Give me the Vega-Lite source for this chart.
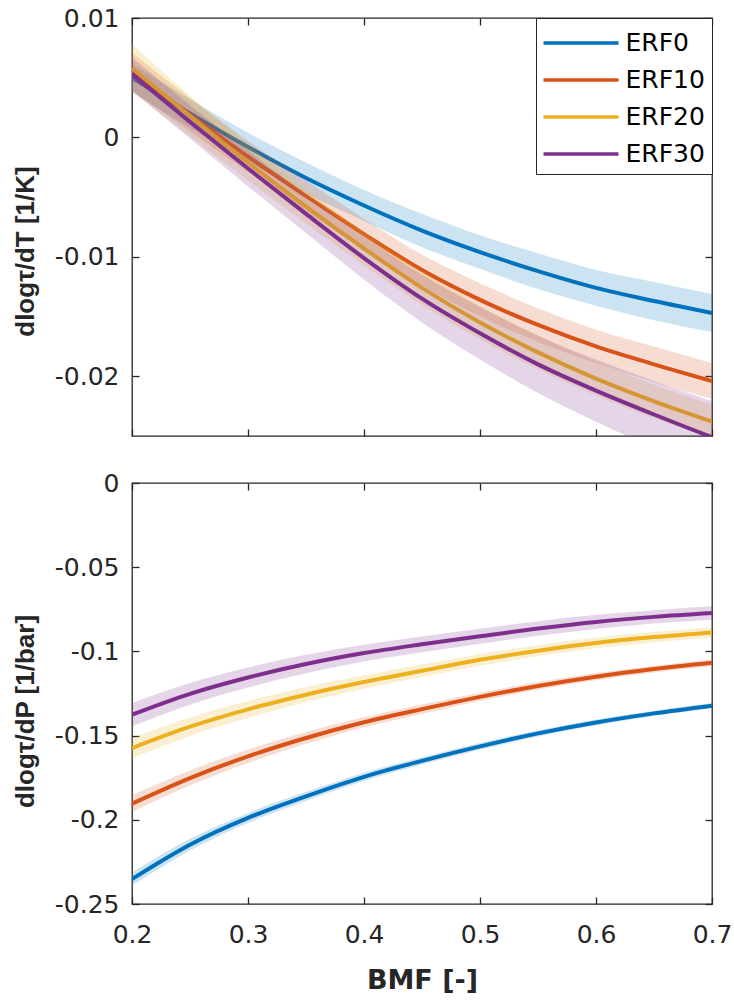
{
  "$schema": "https://vega.github.io/schema/vega-lite/v6.json",
  "background": "white",
  "padding": {"left": 11, "top": 5, "right": 5, "bottom": 5},
  "config": {
    "font": "DejaVu Sans",
    "view": {"stroke": "#262626", "strokeWidth": 1.3},
    "axis": {"domain": false, "grid": false, "tickColor": "#262626", "tickWidth": 1.3, "tickSize": -7, "labelColor": "#262626", "labelFont": "DejaVu Sans", "labelFontSize": 25, "labelPadding": 20, "labelFlush": false, "titleColor": "#262626", "titleFont": "Liberation Sans", "titleFontWeight": "bold", "titleFontSize": 26},
    "legend": {"orient": "top-right", "offset": 0, "padding": 6.5, "strokeColor": "#262626", "strokeWidth": 1, "fillColor": "white", "symbolType": "M-1.045,0H3.433", "symbolStrokeWidth": 3.5, "symbolSize": 1122, "symbolOpacity": 1, "labelFont": "DejaVu Sans", "labelFontSize": 25, "labelColor": "#000000", "labelOffset": 46, "rowPadding": 5, "cornerRadius": 0}
  },
  "datasets": {
    "T": [
      {"s": "ERF0", "x": 0.2, "y": 0.0050, "lo": 0.0038, "hi": 0.0062},
      {"s": "ERF0", "x": 0.25, "y": 0.0020, "lo": 0.0008, "hi": 0.0032},
      {"s": "ERF0", "x": 0.3, "y": -0.0008, "lo": -0.0020, "hi": 0.0004},
      {"s": "ERF0", "x": 0.35, "y": -0.0034, "lo": -0.0047, "hi": -0.0021},
      {"s": "ERF0", "x": 0.4, "y": -0.0057, "lo": -0.0070, "hi": -0.0044},
      {"s": "ERF0", "x": 0.45, "y": -0.0078, "lo": -0.0092, "hi": -0.0064},
      {"s": "ERF0", "x": 0.5, "y": -0.0096, "lo": -0.0110, "hi": -0.0082},
      {"s": "ERF0", "x": 0.55, "y": -0.0112, "lo": -0.0127, "hi": -0.0097},
      {"s": "ERF0", "x": 0.6, "y": -0.0126, "lo": -0.0141, "hi": -0.0111},
      {"s": "ERF0", "x": 0.65, "y": -0.0137, "lo": -0.0153, "hi": -0.0121},
      {"s": "ERF0", "x": 0.7, "y": -0.0147, "lo": -0.0163, "hi": -0.0131},
      {"s": "ERF10", "x": 0.2, "y": 0.0055, "lo": 0.0039, "hi": 0.0071},
      {"s": "ERF10", "x": 0.25, "y": 0.0019, "lo": 0.0005, "hi": 0.0033},
      {"s": "ERF10", "x": 0.3, "y": -0.0016, "lo": -0.0029, "hi": -0.0003},
      {"s": "ERF10", "x": 0.35, "y": -0.0049, "lo": -0.0062, "hi": -0.0036},
      {"s": "ERF10", "x": 0.4, "y": -0.0081, "lo": -0.0094, "hi": -0.0068},
      {"s": "ERF10", "x": 0.45, "y": -0.0111, "lo": -0.0124, "hi": -0.0098},
      {"s": "ERF10", "x": 0.5, "y": -0.0136, "lo": -0.0150, "hi": -0.0122},
      {"s": "ERF10", "x": 0.55, "y": -0.0157, "lo": -0.0171, "hi": -0.0143},
      {"s": "ERF10", "x": 0.6, "y": -0.0175, "lo": -0.0189, "hi": -0.0161},
      {"s": "ERF10", "x": 0.65, "y": -0.0190, "lo": -0.0205, "hi": -0.0175},
      {"s": "ERF10", "x": 0.7, "y": -0.0204, "lo": -0.0219, "hi": -0.0189},
      {"s": "ERF20", "x": 0.2, "y": 0.0058, "lo": 0.0038, "hi": 0.0078},
      {"s": "ERF20", "x": 0.25, "y": 0.0018, "lo": 0.0001, "hi": 0.0035},
      {"s": "ERF20", "x": 0.3, "y": -0.0021, "lo": -0.0036, "hi": -0.0006},
      {"s": "ERF20", "x": 0.35, "y": -0.0058, "lo": -0.0072, "hi": -0.0044},
      {"s": "ERF20", "x": 0.4, "y": -0.0093, "lo": -0.0107, "hi": -0.0079},
      {"s": "ERF20", "x": 0.45, "y": -0.0126, "lo": -0.0140, "hi": -0.0112},
      {"s": "ERF20", "x": 0.5, "y": -0.0155, "lo": -0.0169, "hi": -0.0141},
      {"s": "ERF20", "x": 0.55, "y": -0.0180, "lo": -0.0194, "hi": -0.0166},
      {"s": "ERF20", "x": 0.6, "y": -0.0202, "lo": -0.0216, "hi": -0.0188},
      {"s": "ERF20", "x": 0.65, "y": -0.0221, "lo": -0.0235, "hi": -0.0207},
      {"s": "ERF20", "x": 0.7, "y": -0.0238, "lo": -0.0252, "hi": -0.0224},
      {"s": "ERF30", "x": 0.2, "y": 0.0053, "lo": 0.0039, "hi": 0.0067},
      {"s": "ERF30", "x": 0.25, "y": 0.0013, "lo": -0.0001, "hi": 0.0027},
      {"s": "ERF30", "x": 0.3, "y": -0.0026, "lo": -0.0041, "hi": -0.0011},
      {"s": "ERF30", "x": 0.35, "y": -0.0064, "lo": -0.0080, "hi": -0.0048},
      {"s": "ERF30", "x": 0.4, "y": -0.0101, "lo": -0.0119, "hi": -0.0083},
      {"s": "ERF30", "x": 0.45, "y": -0.0135, "lo": -0.0155, "hi": -0.0115},
      {"s": "ERF30", "x": 0.5, "y": -0.0164, "lo": -0.0186, "hi": -0.0142},
      {"s": "ERF30", "x": 0.55, "y": -0.0190, "lo": -0.0214, "hi": -0.0166},
      {"s": "ERF30", "x": 0.6, "y": -0.0212, "lo": -0.0238, "hi": -0.0186},
      {"s": "ERF30", "x": 0.65, "y": -0.0232, "lo": -0.0260, "hi": -0.0204},
      {"s": "ERF30", "x": 0.7, "y": -0.0251, "lo": -0.0281, "hi": -0.0221}
    ],
    "P": [
      {"s": "ERF0", "x": 0.2, "y": -0.2352, "lo": -0.2392, "hi": -0.2312},
      {"s": "ERF0", "x": 0.25, "y": -0.2148, "lo": -0.2183, "hi": -0.2113},
      {"s": "ERF0", "x": 0.3, "y": -0.1989, "lo": -0.2019, "hi": -0.1959},
      {"s": "ERF0", "x": 0.35, "y": -0.1861, "lo": -0.1888, "hi": -0.1834},
      {"s": "ERF0", "x": 0.4, "y": -0.1745, "lo": -0.1770, "hi": -0.1720},
      {"s": "ERF0", "x": 0.45, "y": -0.1650, "lo": -0.1672, "hi": -0.1628},
      {"s": "ERF0", "x": 0.5, "y": -0.1564, "lo": -0.1584, "hi": -0.1544},
      {"s": "ERF0", "x": 0.55, "y": -0.1487, "lo": -0.1505, "hi": -0.1469},
      {"s": "ERF0", "x": 0.6, "y": -0.1422, "lo": -0.1439, "hi": -0.1405},
      {"s": "ERF0", "x": 0.65, "y": -0.1368, "lo": -0.1384, "hi": -0.1352},
      {"s": "ERF0", "x": 0.7, "y": -0.1322, "lo": -0.1337, "hi": -0.1307},
      {"s": "ERF10", "x": 0.2, "y": -0.1904, "lo": -0.1954, "hi": -0.1854},
      {"s": "ERF10", "x": 0.25, "y": -0.1752, "lo": -0.1797, "hi": -0.1707},
      {"s": "ERF10", "x": 0.3, "y": -0.1623, "lo": -0.1663, "hi": -0.1583},
      {"s": "ERF10", "x": 0.35, "y": -0.1514, "lo": -0.1549, "hi": -0.1479},
      {"s": "ERF10", "x": 0.4, "y": -0.1421, "lo": -0.1451, "hi": -0.1391},
      {"s": "ERF10", "x": 0.45, "y": -0.1343, "lo": -0.1371, "hi": -0.1315},
      {"s": "ERF10", "x": 0.5, "y": -0.1270, "lo": -0.1295, "hi": -0.1245},
      {"s": "ERF10", "x": 0.55, "y": -0.1205, "lo": -0.1228, "hi": -0.1182},
      {"s": "ERF10", "x": 0.6, "y": -0.1150, "lo": -0.1172, "hi": -0.1128},
      {"s": "ERF10", "x": 0.65, "y": -0.1105, "lo": -0.1125, "hi": -0.1085},
      {"s": "ERF10", "x": 0.7, "y": -0.1068, "lo": -0.1088, "hi": -0.1048},
      {"s": "ERF20", "x": 0.2, "y": -0.1574, "lo": -0.1634, "hi": -0.1514},
      {"s": "ERF20", "x": 0.25, "y": -0.1447, "lo": -0.1502, "hi": -0.1392},
      {"s": "ERF20", "x": 0.3, "y": -0.1344, "lo": -0.1394, "hi": -0.1294},
      {"s": "ERF20", "x": 0.35, "y": -0.1257, "lo": -0.1302, "hi": -0.1212},
      {"s": "ERF20", "x": 0.4, "y": -0.1182, "lo": -0.1222, "hi": -0.1142},
      {"s": "ERF20", "x": 0.45, "y": -0.1115, "lo": -0.1152, "hi": -0.1078},
      {"s": "ERF20", "x": 0.5, "y": -0.1050, "lo": -0.1085, "hi": -0.1015},
      {"s": "ERF20", "x": 0.55, "y": -0.0996, "lo": -0.1029, "hi": -0.0963},
      {"s": "ERF20", "x": 0.6, "y": -0.0950, "lo": -0.0982, "hi": -0.0918},
      {"s": "ERF20", "x": 0.65, "y": -0.0915, "lo": -0.0945, "hi": -0.0885},
      {"s": "ERF20", "x": 0.7, "y": -0.0887, "lo": -0.0917, "hi": -0.0857},
      {"s": "ERF30", "x": 0.2, "y": -0.1376, "lo": -0.1446, "hi": -0.1306},
      {"s": "ERF30", "x": 0.25, "y": -0.1252, "lo": -0.1317, "hi": -0.1187},
      {"s": "ERF30", "x": 0.3, "y": -0.1155, "lo": -0.1215, "hi": -0.1095},
      {"s": "ERF30", "x": 0.35, "y": -0.1075, "lo": -0.1130, "hi": -0.1020},
      {"s": "ERF30", "x": 0.4, "y": -0.1010, "lo": -0.1060, "hi": -0.0960},
      {"s": "ERF30", "x": 0.45, "y": -0.0958, "lo": -0.1005, "hi": -0.0911},
      {"s": "ERF30", "x": 0.5, "y": -0.0910, "lo": -0.0955, "hi": -0.0865},
      {"s": "ERF30", "x": 0.55, "y": -0.0864, "lo": -0.0907, "hi": -0.0821},
      {"s": "ERF30", "x": 0.6, "y": -0.0825, "lo": -0.0867, "hi": -0.0783},
      {"s": "ERF30", "x": 0.65, "y": -0.0795, "lo": -0.0835, "hi": -0.0755},
      {"s": "ERF30", "x": 0.7, "y": -0.0772, "lo": -0.0812, "hi": -0.0732}
    ]
  },
  "spacing": 29,
  "resolve": {"scale": {"color": "independent"}, "legend": {"color": "independent"}},
  "vconcat": [
    {
      "width": 580,
      "height": 418,
      "data": {"name": "T"},
      "resolve": {"axis": {"x": "independent", "y": "independent"}},
      "layer": [
        {
          "encoding": {
            "x": {"field": "x", "type": "quantitative", "scale": {"domain": [0.2, 0.7], "nice": false}, "axis": {"values": [0.2, 0.3, 0.4, 0.5, 0.6, 0.7], "labels": false, "title": null}}
          },
          "layer": [
            {"transform": [{"filter": "datum.s === 'ERF0'"}], "mark": {"type": "area", "color": "#0072BD", "opacity": 0.2, "clip": true, "interpolate": "monotone"},
             "encoding": {"y": {"field": "lo", "type": "quantitative", "scale": {"domain": [-0.025, 0.01], "nice": false}, "axis": {"values": [-0.02, -0.01, 0, 0.01], "labelExpr": "datum.value < 0 ? '-' + format(-datum.value, '~g') : format(datum.value, '~g')", "title": "dlogτ/dT [1/K]", "titleX": -94, "titleY": 233}}, "y2": {"field": "hi"}}},
            {"transform": [{"filter": "datum.s === 'ERF0'"}], "mark": {"type": "line", "strokeWidth": 4, "clip": true, "interpolate": "monotone"},
             "encoding": {"y": {"field": "y", "type": "quantitative", "scale": {"domain": [-0.025, 0.01], "nice": false}, "axis": {"values": [-0.02, -0.01, 0, 0.01], "labelExpr": "datum.value < 0 ? '-' + format(-datum.value, '~g') : format(datum.value, '~g')", "title": "dlogτ/dT [1/K]", "titleX": -94, "titleY": 233}},
              "color": {"field": "s", "type": "nominal", "scale": {"domain": ["ERF0", "ERF10", "ERF20", "ERF30"], "range": ["#0072BD", "#D95319", "#EDB120", "#7E2F8E"]}, "legend": {"title": null, "orient": "top-right"}}}},
            {"transform": [{"filter": "datum.s === 'ERF10'"}], "mark": {"type": "area", "color": "#D95319", "opacity": 0.2, "clip": true, "interpolate": "monotone"},
             "encoding": {"y": {"field": "lo", "type": "quantitative", "scale": {"domain": [-0.025, 0.01], "nice": false}, "axis": {"values": [-0.02, -0.01, 0, 0.01], "labelExpr": "datum.value < 0 ? '-' + format(-datum.value, '~g') : format(datum.value, '~g')", "title": "dlogτ/dT [1/K]", "titleX": -94, "titleY": 233}}, "y2": {"field": "hi"}}},
            {"transform": [{"filter": "datum.s === 'ERF10'"}], "mark": {"type": "line", "strokeWidth": 4, "clip": true, "interpolate": "monotone"},
             "encoding": {"y": {"field": "y", "type": "quantitative", "scale": {"domain": [-0.025, 0.01], "nice": false}, "axis": {"values": [-0.02, -0.01, 0, 0.01], "labelExpr": "datum.value < 0 ? '-' + format(-datum.value, '~g') : format(datum.value, '~g')", "title": "dlogτ/dT [1/K]", "titleX": -94, "titleY": 233}},
              "color": {"field": "s", "type": "nominal", "scale": {"domain": ["ERF0", "ERF10", "ERF20", "ERF30"], "range": ["#0072BD", "#D95319", "#EDB120", "#7E2F8E"]}, "legend": {"title": null, "orient": "top-right"}}}},
            {"transform": [{"filter": "datum.s === 'ERF20'"}], "mark": {"type": "area", "color": "#EDB120", "opacity": 0.2, "clip": true, "interpolate": "monotone"},
             "encoding": {"y": {"field": "lo", "type": "quantitative", "scale": {"domain": [-0.025, 0.01], "nice": false}, "axis": {"values": [-0.02, -0.01, 0, 0.01], "labelExpr": "datum.value < 0 ? '-' + format(-datum.value, '~g') : format(datum.value, '~g')", "title": "dlogτ/dT [1/K]", "titleX": -94, "titleY": 233}}, "y2": {"field": "hi"}}},
            {"transform": [{"filter": "datum.s === 'ERF20'"}], "mark": {"type": "line", "strokeWidth": 4, "clip": true, "interpolate": "monotone"},
             "encoding": {"y": {"field": "y", "type": "quantitative", "scale": {"domain": [-0.025, 0.01], "nice": false}, "axis": {"values": [-0.02, -0.01, 0, 0.01], "labelExpr": "datum.value < 0 ? '-' + format(-datum.value, '~g') : format(datum.value, '~g')", "title": "dlogτ/dT [1/K]", "titleX": -94, "titleY": 233}},
              "color": {"field": "s", "type": "nominal", "scale": {"domain": ["ERF0", "ERF10", "ERF20", "ERF30"], "range": ["#0072BD", "#D95319", "#EDB120", "#7E2F8E"]}, "legend": {"title": null, "orient": "top-right"}}}},
            {"transform": [{"filter": "datum.s === 'ERF30'"}], "mark": {"type": "area", "color": "#7E2F8E", "opacity": 0.2, "clip": true, "interpolate": "monotone"},
             "encoding": {"y": {"field": "lo", "type": "quantitative", "scale": {"domain": [-0.025, 0.01], "nice": false}, "axis": {"values": [-0.02, -0.01, 0, 0.01], "labelExpr": "datum.value < 0 ? '-' + format(-datum.value, '~g') : format(datum.value, '~g')", "title": "dlogτ/dT [1/K]", "titleX": -94, "titleY": 233}}, "y2": {"field": "hi"}}},
            {"transform": [{"filter": "datum.s === 'ERF30'"}], "mark": {"type": "line", "strokeWidth": 4, "clip": true, "interpolate": "monotone"},
             "encoding": {"y": {"field": "y", "type": "quantitative", "scale": {"domain": [-0.025, 0.01], "nice": false}, "axis": {"values": [-0.02, -0.01, 0, 0.01], "labelExpr": "datum.value < 0 ? '-' + format(-datum.value, '~g') : format(datum.value, '~g')", "title": "dlogτ/dT [1/K]", "titleX": -94, "titleY": 233}},
              "color": {"field": "s", "type": "nominal", "scale": {"domain": ["ERF0", "ERF10", "ERF20", "ERF30"], "range": ["#0072BD", "#D95319", "#EDB120", "#7E2F8E"]}, "legend": {"title": null, "orient": "top-right"}}}}
          ]
        },
        {
          "mark": {"type": "point", "opacity": 0},
          "encoding": {
            "x": {"field": "x", "type": "quantitative", "scale": {"domain": [0.2, 0.7], "nice": false}, "axis": {"orient": "top", "values": [0.2, 0.3, 0.4, 0.5, 0.6, 0.7], "labels": false, "title": null}},
            "y": {"field": "y", "type": "quantitative", "scale": {"domain": [-0.025, 0.01], "nice": false}, "axis": {"orient": "right", "values": [-0.02, -0.01, 0, 0.01], "labels": false, "title": null}}
          }
        }
      ]
    },
    {
      "width": 580,
      "height": 421,
      "data": {"name": "P"},
      "resolve": {"axis": {"x": "independent", "y": "independent"}},
      "layer": [
        {
          "encoding": {
            "x": {"field": "x", "type": "quantitative", "scale": {"domain": [0.2, 0.7], "nice": false}, "axis": {"values": [0.2, 0.3, 0.4, 0.5, 0.6, 0.7], "format": "~g", "title": "BMF [-]", "titleFont": "DejaVu Sans", "titleFontSize": 27, "labelPadding": 25, "titlePadding": 20}}
          },
          "layer": [
            {"transform": [{"filter": "datum.s === 'ERF0'"}], "mark": {"type": "area", "color": "#0072BD", "opacity": 0.2, "clip": true, "interpolate": "monotone"},
             "encoding": {"y": {"field": "lo", "type": "quantitative", "scale": {"domain": [-0.25, 0], "nice": false}, "axis": {"values": [-0.25, -0.2, -0.15, -0.1, -0.05, 0], "labelExpr": "datum.value < 0 ? '-' + format(-datum.value, '~g') : format(datum.value, '~g')", "title": "dlogτ/dP [1/bar]", "titleX": -94, "titleY": 228}}, "y2": {"field": "hi"}}},
            {"transform": [{"filter": "datum.s === 'ERF0'"}], "mark": {"type": "line", "strokeWidth": 4, "clip": true, "interpolate": "monotone"},
             "encoding": {"y": {"field": "y", "type": "quantitative", "scale": {"domain": [-0.25, 0], "nice": false}, "axis": {"values": [-0.25, -0.2, -0.15, -0.1, -0.05, 0], "labelExpr": "datum.value < 0 ? '-' + format(-datum.value, '~g') : format(datum.value, '~g')", "title": "dlogτ/dP [1/bar]", "titleX": -94, "titleY": 228}},
              "color": {"field": "s", "type": "nominal", "scale": {"domain": ["ERF0", "ERF10", "ERF20", "ERF30"], "range": ["#0072BD", "#D95319", "#EDB120", "#7E2F8E"]}, "legend": null}}},
            {"transform": [{"filter": "datum.s === 'ERF10'"}], "mark": {"type": "area", "color": "#D95319", "opacity": 0.2, "clip": true, "interpolate": "monotone"},
             "encoding": {"y": {"field": "lo", "type": "quantitative", "scale": {"domain": [-0.25, 0], "nice": false}, "axis": {"values": [-0.25, -0.2, -0.15, -0.1, -0.05, 0], "labelExpr": "datum.value < 0 ? '-' + format(-datum.value, '~g') : format(datum.value, '~g')", "title": "dlogτ/dP [1/bar]", "titleX": -94, "titleY": 228}}, "y2": {"field": "hi"}}},
            {"transform": [{"filter": "datum.s === 'ERF10'"}], "mark": {"type": "line", "strokeWidth": 4, "clip": true, "interpolate": "monotone"},
             "encoding": {"y": {"field": "y", "type": "quantitative", "scale": {"domain": [-0.25, 0], "nice": false}, "axis": {"values": [-0.25, -0.2, -0.15, -0.1, -0.05, 0], "labelExpr": "datum.value < 0 ? '-' + format(-datum.value, '~g') : format(datum.value, '~g')", "title": "dlogτ/dP [1/bar]", "titleX": -94, "titleY": 228}},
              "color": {"field": "s", "type": "nominal", "scale": {"domain": ["ERF0", "ERF10", "ERF20", "ERF30"], "range": ["#0072BD", "#D95319", "#EDB120", "#7E2F8E"]}, "legend": null}}},
            {"transform": [{"filter": "datum.s === 'ERF20'"}], "mark": {"type": "area", "color": "#EDB120", "opacity": 0.2, "clip": true, "interpolate": "monotone"},
             "encoding": {"y": {"field": "lo", "type": "quantitative", "scale": {"domain": [-0.25, 0], "nice": false}, "axis": {"values": [-0.25, -0.2, -0.15, -0.1, -0.05, 0], "labelExpr": "datum.value < 0 ? '-' + format(-datum.value, '~g') : format(datum.value, '~g')", "title": "dlogτ/dP [1/bar]", "titleX": -94, "titleY": 228}}, "y2": {"field": "hi"}}},
            {"transform": [{"filter": "datum.s === 'ERF20'"}], "mark": {"type": "line", "strokeWidth": 4, "clip": true, "interpolate": "monotone"},
             "encoding": {"y": {"field": "y", "type": "quantitative", "scale": {"domain": [-0.25, 0], "nice": false}, "axis": {"values": [-0.25, -0.2, -0.15, -0.1, -0.05, 0], "labelExpr": "datum.value < 0 ? '-' + format(-datum.value, '~g') : format(datum.value, '~g')", "title": "dlogτ/dP [1/bar]", "titleX": -94, "titleY": 228}},
              "color": {"field": "s", "type": "nominal", "scale": {"domain": ["ERF0", "ERF10", "ERF20", "ERF30"], "range": ["#0072BD", "#D95319", "#EDB120", "#7E2F8E"]}, "legend": null}}},
            {"transform": [{"filter": "datum.s === 'ERF30'"}], "mark": {"type": "area", "color": "#7E2F8E", "opacity": 0.2, "clip": true, "interpolate": "monotone"},
             "encoding": {"y": {"field": "lo", "type": "quantitative", "scale": {"domain": [-0.25, 0], "nice": false}, "axis": {"values": [-0.25, -0.2, -0.15, -0.1, -0.05, 0], "labelExpr": "datum.value < 0 ? '-' + format(-datum.value, '~g') : format(datum.value, '~g')", "title": "dlogτ/dP [1/bar]", "titleX": -94, "titleY": 228}}, "y2": {"field": "hi"}}},
            {"transform": [{"filter": "datum.s === 'ERF30'"}], "mark": {"type": "line", "strokeWidth": 4, "clip": true, "interpolate": "monotone"},
             "encoding": {"y": {"field": "y", "type": "quantitative", "scale": {"domain": [-0.25, 0], "nice": false}, "axis": {"values": [-0.25, -0.2, -0.15, -0.1, -0.05, 0], "labelExpr": "datum.value < 0 ? '-' + format(-datum.value, '~g') : format(datum.value, '~g')", "title": "dlogτ/dP [1/bar]", "titleX": -94, "titleY": 228}},
              "color": {"field": "s", "type": "nominal", "scale": {"domain": ["ERF0", "ERF10", "ERF20", "ERF30"], "range": ["#0072BD", "#D95319", "#EDB120", "#7E2F8E"]}, "legend": null}}}
          ]
        },
        {
          "mark": {"type": "point", "opacity": 0},
          "encoding": {
            "x": {"field": "x", "type": "quantitative", "scale": {"domain": [0.2, 0.7], "nice": false}, "axis": {"orient": "top", "values": [0.2, 0.3, 0.4, 0.5, 0.6, 0.7], "labels": false, "title": null}},
            "y": {"field": "y", "type": "quantitative", "scale": {"domain": [-0.25, 0], "nice": false}, "axis": {"orient": "right", "values": [-0.25, -0.2, -0.15, -0.1, -0.05, 0], "labels": false, "title": null}}
          }
        }
      ]
    }
  ]
}
